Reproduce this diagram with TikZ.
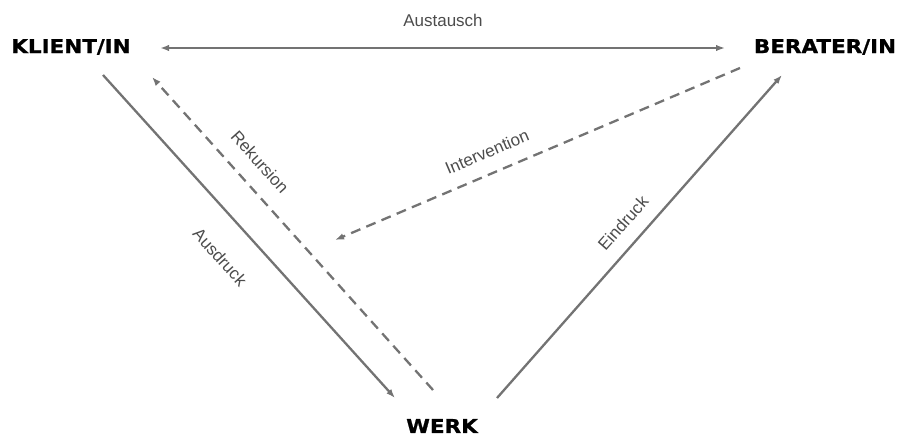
\documentclass[tikz,border=0pt]{standalone}
\usepackage{fontspec}
\setmainfont{Liberation Sans}
\newfontfamily\namefont{DejaVu Sans}[FakeStretch=1.13,FakeBold=1]
\usetikzlibrary{arrows.meta}

\begin{document}
\begin{tikzpicture}[x=1pt,y=-1pt,>={Latex[length=9pt,width=6.5pt]},
  party/.style={inner sep=2pt,font=\namefont\bfseries\fontsize{19}{21}\selectfont},
  lbl/.style={inner sep=1pt,text=black!70,font=\fontsize{17}{19}\selectfont},
  link/.style={draw=black!55,line width=2.3pt},
  dlink/.style={link,dash pattern=on 10pt off 6.5pt}]
\useasboundingbox (0,0) rectangle (912,439);

% the three parties
\node[party] (klient) at (71,47) {KLIENT/IN};
\node[party] (berater) at (825,47) {BERATER/IN};
\node[party] (werk) at (442,426) {WERK};

% free ends of the arrows
\coordinate (aus-l) at (160,48);
\coordinate (aus-r) at (725,48);
\coordinate (ausdr-a) at (103,75);
\coordinate (ausdr-b) at (395,398);
\coordinate (rek-a) at (433,390);
\coordinate (rek-b) at (152,77);
\coordinate (int-a) at (740,68);
\coordinate (int-b) at (335,240);
\coordinate (ein-a) at (497,398);
\coordinate (ein-b) at (782,75);

\draw[link,<->,line width=2.7pt] (aus-l) -- (aus-r);
\draw[link,->] (ausdr-a) -- (ausdr-b);
\draw[dlink,->] (rek-a) -- (rek-b);
\draw[dlink,->] (int-a) -- (int-b);
\draw[link,->] (ein-a) -- (ein-b);

% labels
\node[lbl] (austausch) at (443,20) {Austausch};
\node[lbl,rotate=-48] (rekursion) at (260,162) {Rekursion};
\node[lbl,rotate=-48] (ausdruck) at (220,257) {Ausdruck};
\node[lbl,rotate=23] (intervention) at (487,152) {Intervention};
\node[lbl,rotate=48.5] (eindruck) at (623,223) {Eindruck};
\end{tikzpicture}
\end{document}
